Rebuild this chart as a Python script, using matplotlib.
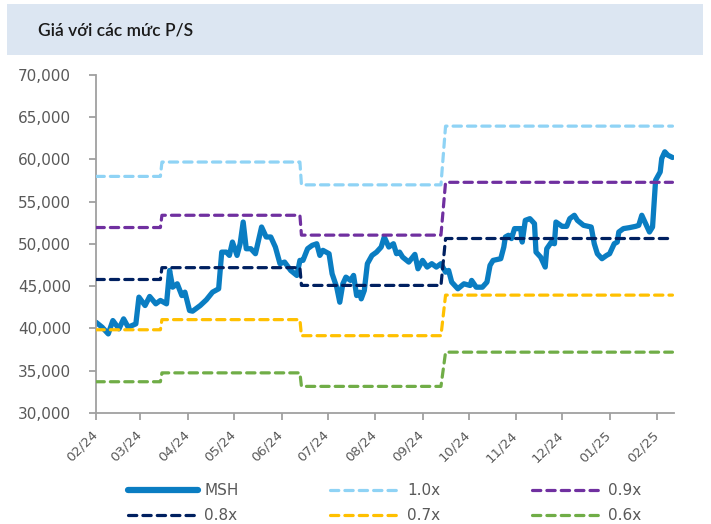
import matplotlib
matplotlib.use("Agg")
import matplotlib.pyplot as plt
import matplotlib.transforms as mtransforms
from matplotlib.patches import Rectangle
from matplotlib.lines import Line2D
import numpy as np
import pandas as pd

title = "Giá với các mức P/S"

price_dates = [
    "2024-02-01", "2024-02-05", "2024-02-09", "2024-02-12", "2024-02-16", "2024-02-19",
    "2024-02-22", "2024-02-27", "2024-02-29", "2024-03-04", "2024-03-07", "2024-03-11",
    "2024-03-14", "2024-03-18", "2024-03-20", "2024-03-22", "2024-03-25", "2024-03-28",
    "2024-03-30", "2024-04-02", "2024-04-04", "2024-04-09", "2024-04-13", "2024-04-17",
    "2024-04-21", "2024-04-23", "2024-04-26", "2024-04-28", "2024-04-30", "2024-05-03",
    "2024-05-05", "2024-05-07", "2024-05-09", "2024-05-12", "2024-05-15", "2024-05-19",
    "2024-05-22", "2024-05-25", "2024-05-28", "2024-05-31", "2024-06-03", "2024-06-07",
    "2024-06-11", "2024-06-13", "2024-06-15", "2024-06-18", "2024-06-21", "2024-06-24",
    "2024-06-26", "2024-06-28", "2024-07-02", "2024-07-04", "2024-07-07", "2024-07-09",
    "2024-07-11", "2024-07-13", "2024-07-16", "2024-07-18", "2024-07-20", "2024-07-22",
    "2024-07-23", "2024-07-25", "2024-07-27", "2024-07-30", "2024-08-02", "2024-08-05",
    "2024-08-07", "2024-08-10", "2024-08-13", "2024-08-15", "2024-08-17", "2024-08-19",
    "2024-08-23", "2024-08-27", "2024-08-29", "2024-09-01", "2024-09-04", "2024-09-07",
    "2024-09-10", "2024-09-13", "2024-09-16", "2024-09-18", "2024-09-20", "2024-09-24",
    "2024-09-28", "2024-10-02", "2024-10-03", "2024-10-06", "2024-10-10", "2024-10-13",
    "2024-10-15", "2024-10-17", "2024-10-22", "2024-10-24", "2024-10-25", "2024-10-27",
    "2024-10-29", "2024-10-31", "2024-11-04", "2024-11-05", "2024-11-07", "2024-11-10",
    "2024-11-13", "2024-11-14", "2024-11-17", "2024-11-20", "2024-11-21", "2024-11-24",
    "2024-11-26", "2024-11-27", "2024-12-01", "2024-12-04", "2024-12-06", "2024-12-09",
    "2024-12-11", "2024-12-15", "2024-12-18", "2024-12-20", "2024-12-22", "2024-12-24",
    "2024-12-27", "2024-12-30", "2025-01-01", "2025-01-04", "2025-01-06", "2025-01-07",
    "2025-01-10", "2025-01-14", "2025-01-18", "2025-01-20", "2025-01-22", "2025-01-25",
    "2025-01-27", "2025-01-29", "2025-01-31", "2025-02-03", "2025-02-04", "2025-02-06",
    "2025-02-08", "2025-02-11",
]
price_values = [
    40740, 40150, 39360, 40940, 39960, 41140,
    40150, 40550, 43710, 42720, 43790, 42920,
    43320, 42920, 46870, 44890, 45290, 43900,
    44300, 42130, 42050, 42720, 43400, 44300,
    44700, 49040, 49040, 48650, 50230, 48650,
    50030, 52600, 49440, 49440, 48850, 52010,
    50830, 50830, 49640, 47670, 47860, 46870,
    46280, 48060, 48060, 49440, 49840, 50030,
    48650, 49250, 48850, 46480, 44890, 43110,
    45290, 46080, 45690, 46280, 43900, 44300,
    43510, 44500, 47670, 48650, 49040, 49640,
    50830, 49640, 50030, 48850, 49040, 48450,
    47860, 48770, 47070, 48060, 47270, 47670,
    47270, 47670, 46670, 46870, 45490, 44700,
    45290, 45090, 45690, 44890, 44890, 45490,
    47470, 48060, 48260, 49640, 50830, 51030,
    50640, 51820, 51820, 50230, 52800, 53000,
    52410, 49040, 48450, 47270, 49440, 50230,
    50030, 52600, 52090, 52090, 53000, 53400,
    52800, 52210, 52090, 52010, 50030, 48850,
    48260, 48650, 48850, 50030, 50230, 51420,
    51820, 51940, 52090, 52210, 53400, 52210,
    51420, 52010, 57550, 58530, 60120, 60910,
    60510, 60240,
]

level_starts = ["2024-02-01", "2024-03-15", "2024-06-14", "2024-09-16"]
level_end = "2025-02-11"
ps_10 = [58000, 59700, 57000, 63950]
ps_09 = [51950, 53400, 51050, 57300]
ps_08 = [45800, 47200, 45100, 50650]
ps_07 = [39850, 41050, 39150, 43950]
ps_06 = [33700, 34750, 33150, 37200]

price_label = "MSH"
level_labels = ["1.0x", "0.9x", "0.8x", "0.7x", "0.6x"]
y_ticks = [30000, 35000, 40000, 45000, 50000, 55000, 60000, 65000, 70000]
x_tick_dates = pd.date_range("2024-02-01", "2025-02-01", freq="MS")

price_color = "#0A7DC2"
level_colors = ["#8FD3F5", "#7030A0", "#002060", "#FFC000", "#70AD47"]
axis_gray = "#A0A0A0"
text_gray = "#595959"

W, H = 711, 524
fig = plt.figure(figsize=(W / 100, H / 100), dpi=100)

# title band
fig.patches.append(Rectangle((7 / W, 1 - 55 / H), 696 / W, 51 / H,
                             transform=fig.transFigure, facecolor="#DCE6F2",
                             edgecolor="none", zorder=0))
fig.text(38 / W, 1 - 31 / H, title, fontsize=12.5, color="#1A1A1A", weight="semibold",
         family=["Lato", "DejaVu Sans"], va="center", ha="left")

ax = fig.add_axes([96 / W, 1 - 413 / H, (674 - 96) / W, (413 - 75) / H])

pdates = pd.to_datetime(price_dates)
ax.plot(pdates, price_values, color=price_color, lw=3.8, solid_joinstyle="round",
        solid_capstyle="round", zorder=2)

days = pd.bdate_range(level_starts[0], level_end)
starts = pd.to_datetime(level_starts)
idx = np.searchsorted(starts.values, days.values, side="right") - 1
levels = [ps_10, ps_09, ps_08, ps_07, ps_06]
for lv, col in zip(levels, level_colors):
    vals = np.asarray(lv)[idx]
    ax.plot(days, vals, color=col, lw=2.3, dashes=(2.6, 1.9),
            dash_capstyle="round", zorder=3)

ax.set_xlim(pd.Timestamp("2024-02-01"), pd.Timestamp("2025-02-12"))
ax.set_ylim(30000, 70000)
ax.set_yticks(y_ticks)
ax.set_yticklabels([f"{v:,}" for v in y_ticks])
ax.set_xticks(x_tick_dates)
ax.set_xticklabels([d.strftime("%m/%y") for d in x_tick_dates])

for s in ["top", "right"]:
    ax.spines[s].set_visible(False)
for s in ["left", "bottom"]:
    ax.spines[s].set_color(axis_gray)
    ax.spines[s].set_linewidth(1.3)

ax.tick_params(axis="y", length=5, width=1.3, color=axis_gray, labelsize=11,
               labelcolor=text_gray, pad=13)
ax.tick_params(axis="x", length=5, width=1.3, color=axis_gray, labelsize=9.5,
               labelcolor=text_gray, pad=6)
offset = mtransforms.ScaledTranslation(4 / 100, 0, fig.dpi_scale_trans)
for lab in ax.get_xticklabels():
    lab.set_rotation(45)
    lab.set_ha("right")
    lab.set_transform(lab.get_transform() + offset)

# legend
h_price = Line2D([], [], color=price_color, lw=4.5, solid_capstyle="round")
h_levels = [Line2D([], [], color=c, lw=2.3, dashes=(2.6, 1.9), dash_capstyle="round")
            for c in level_colors]
handles = [h_price, h_levels[2], h_levels[0], h_levels[3], h_levels[1], h_levels[4]]
labels = [price_label, level_labels[2], level_labels[0], level_labels[3],
          level_labels[1], level_labels[4]]
fig.legend(handles, labels, ncol=3, loc="upper left",
           bbox_to_anchor=(128 / W, 1 - 483 / H), frameon=False,
           prop={"size": 11}, labelcolor=text_gray, handlelength=4.6,
           handletextpad=0.4, columnspacing=6.0, labelspacing=0.65,
           borderaxespad=0, borderpad=0)

fig.savefig("out.png", dpi=100)
